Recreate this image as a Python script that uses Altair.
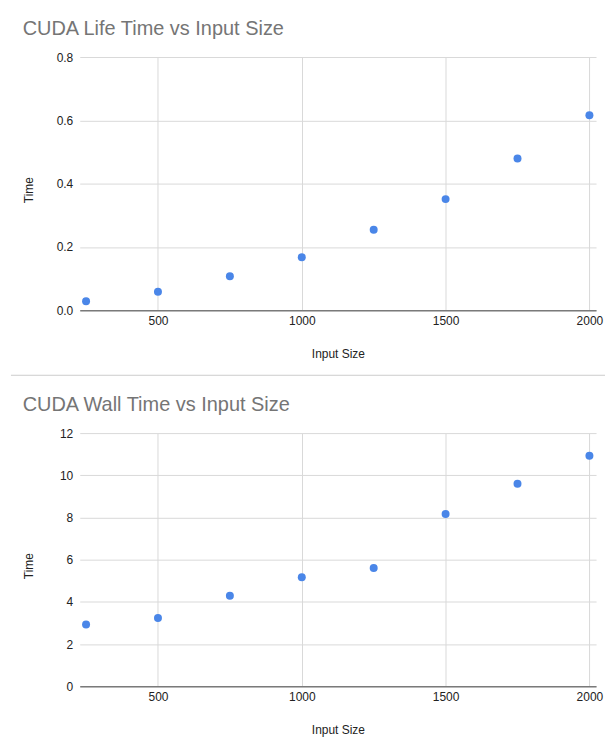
import altair as alt
import pandas as pd

# ---- data ----
input_sizes = [250, 500, 750, 1000, 1250, 1500, 1750, 2000]
life_time = [0.028, 0.058, 0.107, 0.167, 0.254, 0.351, 0.479, 0.616]
wall_time = [2.93, 3.24, 4.29, 5.17, 5.60, 8.16, 9.60, 10.93]

x_ticks = [500, 1000, 1500, 2000]
life_ticks = [0.0, 0.2, 0.4, 0.6, 0.8]
wall_ticks = [0, 2, 4, 6, 8, 10, 12]

FONT = "Liberation Sans"
W, H = 518, 254
POINT_COLOR = "#4a86e8"
GRID = "#d9d9d9"
TEXT = "#222222"


def scatter(values, title, ydomain, yticks, yfmt):
    df = pd.DataFrame({"Input Size": input_sizes, "Time": values})
    x = alt.X(
        "Input Size:Q",
        scale=alt.Scale(domain=[228, 2023], nice=False, zero=False),
        axis=alt.Axis(
            values=x_ticks,
            format="d",
            title="Input Size",
            ticks=False,
            domain=True,
            domainColor="#7a7a7a",
            domainWidth=1.5,
            grid=True,
            gridColor=GRID,
            gridWidth=1,
            labelFont=FONT,
            labelFontSize=12,
            labelColor=TEXT,
            labelPadding=5,
            labelFlush=False,
            labelOverlap=False,
            titleFont=FONT,
            titleFontSize=12,
            titleFontWeight="normal",
            titleColor=TEXT,
            titleX=W / 2,
            titleY=47,
            titleAlign="center",
            titleBaseline="alphabetic",
        ),
    )
    y = alt.Y(
        "Time:Q",
        scale=alt.Scale(domain=ydomain, nice=False, zero=True),
        axis=alt.Axis(
            values=yticks,
            format=yfmt,
            title="Time",
            ticks=False,
            domain=False,
            grid=True,
            gridColor=GRID,
            gridWidth=1,
            labelFont=FONT,
            labelFontSize=12,
            labelColor=TEXT,
            labelPadding=7,
            titleFont=FONT,
            titleFontSize=12,
            titleFontWeight="normal",
            titleColor=TEXT,
            titleAngle=270,
            titleX=-47.5,
            titleY=133,
            titleAlign="center",
            titleBaseline="alphabetic",
        ),
    )
    pts = alt.Chart(df).mark_circle(size=64, color=POINT_COLOR, opacity=1).encode(x=x, y=y)
    return pts, alt.TitleParams(
        text=title,
        anchor="start",
        frame="group",
        font=FONT,
        fontSize=20,
        fontWeight="normal",
        color="#757575",
        baseline="alphabetic",
        dx=-57.3,
        offset=-4,
    )


top_pts, top_title = scatter(life_time, "CUDA Life Time vs Input Size", [0, 0.8], life_ticks, ".1f")
bot_pts, bot_title = scatter(wall_time, "CUDA Wall Time vs Input Size", [0, 12], wall_ticks, "d")

sep_df = pd.DataFrame({"k": [0]})
separator = alt.Chart(sep_df).mark_rule(color="#cccccc", strokeWidth=1).encode(
    x=alt.value(-69), x2=alt.value(527), y=alt.value(319.3)
)

top = alt.layer(top_pts, separator).properties(width=W, height=H, title=top_title)
bottom = alt.layer(bot_pts).properties(width=W, height=H, title=bot_title)

chart = (
    alt.vconcat(top, bottom, spacing=123.3, bounds="flush")
    .properties(padding={"left": 10, "top": 18, "right": 0, "bottom": 0}, background="white")
    .configure_view(stroke=None)
)

chart.save("out.html", embed_options={"renderer": "svg", "actions": False})
